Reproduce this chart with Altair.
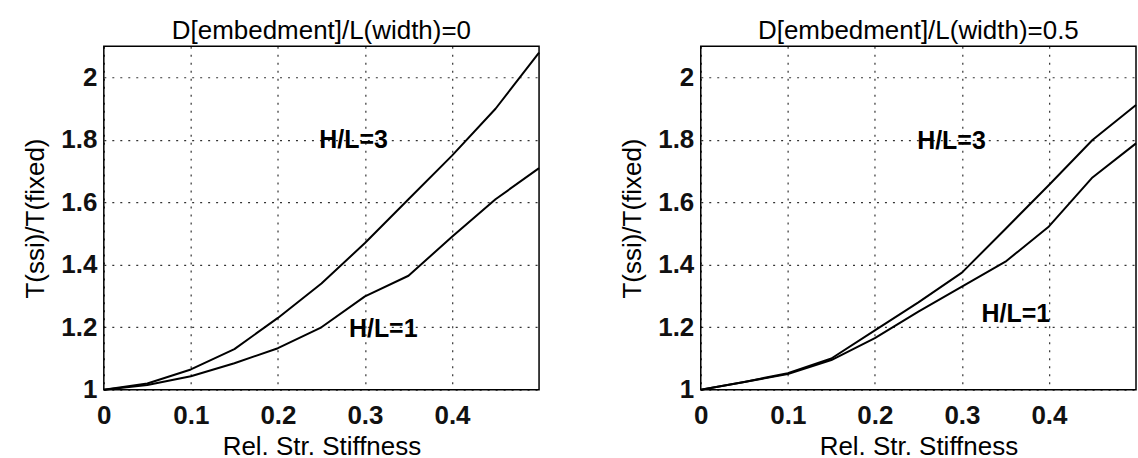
import altair as alt
import pandas as pd

FONT = "Liberation Sans"

# Relative structural stiffness sampled along the x axis
stiffness = [0.0, 0.05, 0.10, 0.15, 0.20, 0.25, 0.30, 0.35, 0.40, 0.45, 0.50]

# Period ratio T(ssi)/T(fixed), embedment D/L = 0
d0_hl3 = [1.0, 1.02, 1.065, 1.13, 1.23, 1.34, 1.47, 1.61, 1.75, 1.90, 2.08]
d0_hl1 = [1.0, 1.015, 1.043, 1.085, 1.133, 1.20, 1.299, 1.365, 1.49, 1.61, 1.71]

# Period ratio T(ssi)/T(fixed), embedment D/L = 0.5
d05_hl3 = [1.0, 1.025, 1.053, 1.10, 1.19, 1.28, 1.375, 1.515, 1.656, 1.80, 1.912]
d05_hl1 = [1.0, 1.025, 1.05, 1.095, 1.165, 1.25, 1.33, 1.41, 1.523, 1.68, 1.789]

series_names = ["H/L=3", "H/L=1"]

# Curve labels placed in data coordinates (stiffness, ratio)
d0_label_s = [0.287, 0.321]
d0_label_t = [1.80, 1.193]
d05_label_s = [0.288, 0.362]
d05_label_t = [1.798, 1.241]

x_ticks = [0, 0.1, 0.2, 0.3, 0.4]
y_ticks = [1, 1.2, 1.4, 1.6, 1.8, 2]


def panel(title, hl3, hl1, lab_s, lab_t):
    rows = []
    for name, vals in zip(series_names, [hl3, hl1]):
        for s, t in zip(stiffness, vals):
            rows.append({"series": name, "s": s, "t": t})
    lines = pd.DataFrame(rows)
    labels = pd.DataFrame({"label": series_names, "s": lab_s, "t": lab_t})

    x = alt.X(
        "s:Q",
        scale=alt.Scale(domain=[0, 0.5], nice=False, zero=False),
        axis=alt.Axis(values=x_ticks, format="~g", title="Rel. Str. Stiffness",
                      labelPadding=13, titlePadding=5),
    )
    y = alt.Y(
        "t:Q",
        scale=alt.Scale(domain=[1, 2.1], nice=False, zero=False),
        axis=alt.Axis(values=y_ticks, format="~g", title="T(ssi)/T(fixed)",
                      labelPadding=7, titlePadding=12),
    )

    curves = alt.Chart(lines).mark_line(
        color="black", strokeWidth=2, strokeJoin="round"
    ).encode(x=x, y=y, detail="series:N")
    tags = alt.Chart(labels).mark_text(
        font=FONT, fontSize=25, fontWeight="bold", color="black",
        align="center", baseline="middle",
    ).encode(x="s:Q", y="t:Q", text="label:N")

    return alt.layer(curves, tags).properties(
        width=436, height=344, title=alt.TitleParams(title)
    )


left = panel("D[embedment]/L(width)=0", d0_hl3, d0_hl1, d0_label_s, d0_label_t)
right = panel("D[embedment]/L(width)=0.5", d05_hl3, d05_hl1, d05_label_s, d05_label_t)

chart = (
    alt.hconcat(left, right, spacing=78)
    .properties(padding={"left": 22, "top": 17, "right": 0, "bottom": 0}, background="white")
    .configure_view(stroke="black", strokeWidth=1.5)
    .configure_title(font=FONT, fontSize=26, fontWeight="normal", color="black", offset=2)
    .configure_axis(
        labelFont=FONT, labelFontSize=26, labelFontWeight="bold", labelColor="#111",
        titleFont=FONT, titleFontSize=26, titleFontWeight="normal", titleColor="black",
        grid=True, gridColor="black", gridDash=[2, 6], gridWidth=1.2, gridOpacity=0.8,
        domain=False, ticks=False, tickSize=0,
        labelFlush=False, labelOverlap=False,
    )
)

chart.save("out.html", embed_options={"renderer": "svg", "actions": False})
